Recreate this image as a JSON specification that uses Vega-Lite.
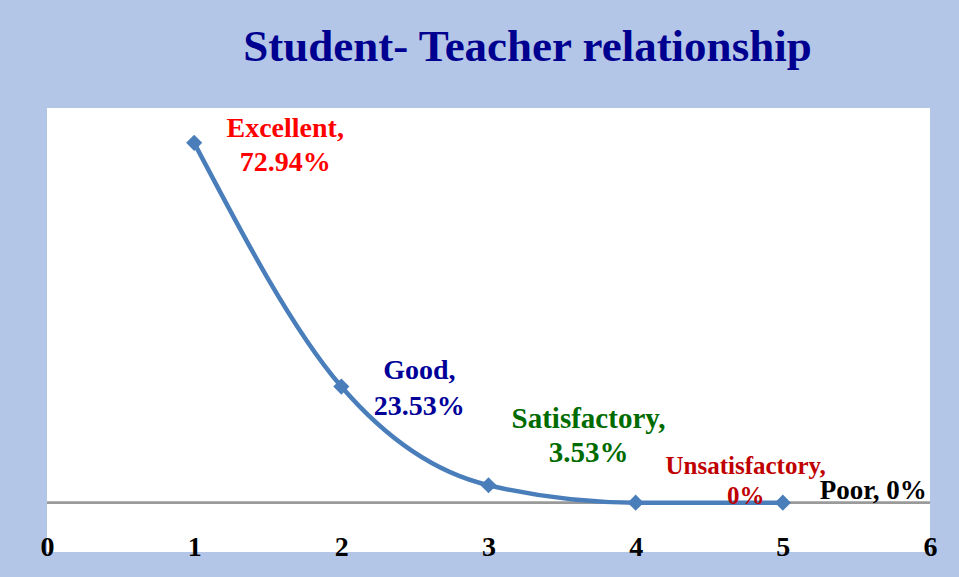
{
  "$schema": "https://vega.github.io/schema/vega-lite/v6.json",
  "width": 883,
  "height": 444,
  "autosize": {"type": "none"},
  "padding": {"left": 47, "top": 108, "right": 29, "bottom": 25},
  "background": "#b4c6e8",
  "config": {"view": {"fill": "white", "stroke": null}, "font": "Liberation Serif"},
  "title": {
    "text": "Student- Teacher relationship",
    "font": "Liberation Serif",
    "fontSize": 45,
    "fontWeight": "bold",
    "color": "#000090",
    "anchor": "middle",
    "baseline": "alphabetic",
    "offset": 2,
    "dx": 39,
    "frame": "group"
  },
  "data": {
    "values": [
      {"x": 1, "category": "Excellent", "pct": 72.94, "label": "Excellent,\n72.94%"},
      {"x": 2, "category": "Good", "pct": 23.53, "label": "Good,\n23.53%"},
      {"x": 3, "category": "Satisfactory", "pct": 3.53, "label": "Satisfactory,\n3.53%"},
      {"x": 4, "category": "Unsatisfactory", "pct": 0, "label": "Unsatisfactory,\n0%"},
      {"x": 5, "category": "Poor", "pct": 0, "label": "Poor, 0%"}
    ]
  },
  "layer": [
    {
      "mark": {"type": "rule", "color": "#9a9a9a", "strokeWidth": 2},
      "encoding": {
        "y": {"datum": 0, "type": "quantitative", "scale": {"domain": [-10, 80]}, "axis": null}
      }
    },
    {
      "mark": {
        "type": "line",
        "interpolate": "monotone",
        "color": "#4a7ebb",
        "strokeWidth": 4.5,
        "point": {"shape": "diamond", "size": 260, "filled": true, "color": "#4a7ebb", "opacity": 1}
      },
      "encoding": {
        "x": {
          "field": "x",
          "type": "quantitative",
          "scale": {"domain": [0, 6], "nice": false, "zero": false},
          "axis": {
            "title": null,
            "values": [0, 1, 2, 3, 4, 5, 6],
            "format": "d",
            "domain": false,
            "ticks": false,
            "grid": false,
            "labelFont": "Liberation Serif",
            "labelFontSize": 28,
            "labelFontWeight": "bold",
            "labelColor": "black",
            "labelBaseline": "alphabetic",
            "labelPadding": 3,
            "labelFlush": false,
            "labelOverlap": false
          }
        },
        "y": {"field": "pct", "type": "quantitative", "scale": {"domain": [-10, 80]}, "axis": null}
      }
    },
    {
      "transform": [{"filter": "datum.category === 'Excellent'"}],
      "mark": {"type": "text", "align": "center", "baseline": "alphabetic", "lineBreak": "\n", "font": "Liberation Serif", "fontWeight": "bold", "fontSize": 28, "lineHeight": 34, "color": "#ff0000", "dx": 91, "dy": -6},
      "encoding": {
        "x": {"field": "x", "type": "quantitative"},
        "y": {"field": "pct", "type": "quantitative", "axis": null},
        "text": {"field": "label"}
      }
    },
    {
      "transform": [{"filter": "datum.category === 'Good'"}],
      "mark": {"type": "text", "align": "center", "baseline": "alphabetic", "lineBreak": "\n", "font": "Liberation Serif", "fontWeight": "bold", "fontSize": 28, "lineHeight": 36, "color": "#000099", "dx": 78, "dy": -8},
      "encoding": {
        "x": {"field": "x", "type": "quantitative"},
        "y": {"field": "pct", "type": "quantitative", "axis": null},
        "text": {"field": "label"}
      }
    },
    {
      "transform": [{"filter": "datum.category === 'Satisfactory'"}],
      "mark": {"type": "text", "align": "center", "baseline": "alphabetic", "lineBreak": "\n", "font": "Liberation Serif", "fontWeight": "bold", "fontSize": 29, "lineHeight": 34, "color": "#006b00", "dx": 100, "dy": -57},
      "encoding": {
        "x": {"field": "x", "type": "quantitative"},
        "y": {"field": "pct", "type": "quantitative", "axis": null},
        "text": {"field": "label"}
      }
    },
    {
      "transform": [{"filter": "datum.category === 'Unsatisfactory'"}],
      "mark": {"type": "text", "align": "center", "baseline": "alphabetic", "lineBreak": "\n", "font": "Liberation Serif", "fontWeight": "bold", "fontSize": 25, "lineHeight": 30, "color": "#c00000", "dx": 110, "dy": -29},
      "encoding": {
        "x": {"field": "x", "type": "quantitative"},
        "y": {"field": "pct", "type": "quantitative", "axis": null},
        "text": {"field": "label"}
      }
    },
    {
      "transform": [{"filter": "datum.category === 'Poor'"}],
      "mark": {"type": "text", "align": "left", "baseline": "alphabetic", "font": "Liberation Serif", "fontWeight": "bold", "fontSize": 27, "color": "#000000", "dx": 37, "dy": -4},
      "encoding": {
        "x": {"field": "x", "type": "quantitative"},
        "y": {"field": "pct", "type": "quantitative", "axis": null},
        "text": {"field": "label"}
      }
    }
  ]
}
